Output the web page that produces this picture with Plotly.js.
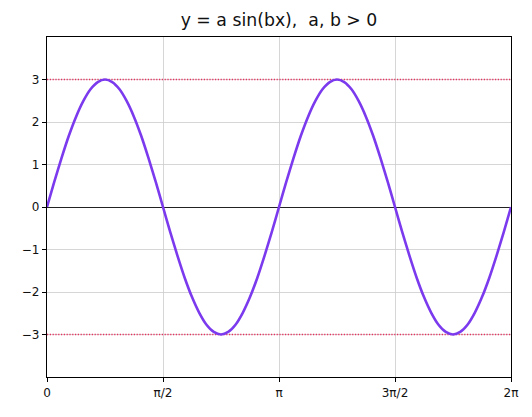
<!DOCTYPE html>
<html>
<head>
<meta charset="utf-8">
<script src="https://cdn.plot.ly/plotly-3.0.1.min.js"></script>
<style>html,body{margin:0;padding:0;background:#fff;}#chart{width:532px;height:417px;}</style>
</head>
<body>
<div id="chart"></div>
<script>
// x positions in units of pi/32 (0 .. 2pi)
const xSteps = [0,1,2,3,4,5,6,7,8,9,10,11,12,13,14,15,16,17,18,19,20,21,22,23,24,25,26,27,28,29,30,31,32,
  33,34,35,36,37,38,39,40,41,42,43,44,45,46,47,48,49,50,51,52,53,54,55,56,57,58,59,60,61,62,63,64];
// curve values (amplitude 3, two periods)
const yValues = [0,0.59,1.15,1.67,2.12,2.49,2.77,2.94,3,2.94,2.77,2.49,2.12,1.67,1.15,0.59,
  0,-0.59,-1.15,-1.67,-2.12,-2.49,-2.77,-2.94,-3,-2.94,-2.77,-2.49,-2.12,-1.67,-1.15,-0.59,
  0,0.59,1.15,1.67,2.12,2.49,2.77,2.94,3,2.94,2.77,2.49,2.12,1.67,1.15,0.59,
  0,-0.59,-1.15,-1.67,-2.12,-2.49,-2.77,-2.94,-3,-2.94,-2.77,-2.49,-2.12,-1.67,-1.15,-0.59,0];
const refLevels = [3, -3];
const tickSteps = [0, 16, 32, 48, 64];
const tickLabels = ["0", "π/2", "π", "3π/2", "2π"];
const yTicks = [-3, -2, -1, 0, 1, 2, 3];

const UNIT = Math.PI / 32;
const xs = xSteps.map(k => k * UNIT);
const xMax = 64 * UNIT;

const traces = [];
refLevels.forEach(v => {
  traces.push({x: [0, xMax], y: [v, v], mode: 'lines', hoverinfo: 'skip',
    line: {color: '#e8305f', width: 1.3, dash: '1.2px,1.6px'}, showlegend: false});
});
traces.push({x: xs, y: yValues, mode: 'lines', line: {color: '#7b3aed', width: 2.6, shape: 'spline', smoothing: 0.6}, showlegend: false});

const layout = {
  width: 532, height: 417,
  margin: {l: 47, r: 21, t: 37, b: 40},
  paper_bgcolor: '#fff', plot_bgcolor: '#fff',
  font: {family: 'DejaVu Sans, sans-serif', size: 12, color: '#111'},
  title: {text: 'y = a sin(bx),&nbsp; a, b > 0', font: {size: 17.3, color: '#111'}, xref: 'paper', x: 0.5, xanchor: 'center', y: 0.951, yanchor: 'middle'},
  xaxis: {range: [0, xMax], tickvals: tickSteps.map(k => k * UNIT), ticktext: tickLabels,
    showgrid: true, gridcolor: '#cccccc', gridwidth: 0.8, zeroline: false,
    showline: true, linecolor: '#000', linewidth: 1.2, mirror: true,
    ticks: 'outside', ticklen: 4, tickcolor: '#000', tickwidth: 1},
  yaxis: {range: [-4, 4], tickvals: yTicks,
    showgrid: true, gridcolor: '#cccccc', gridwidth: 0.8,
    zeroline: true, zerolinecolor: '#222', zerolinewidth: 1,
    showline: true, linecolor: '#000', linewidth: 1.2, mirror: true,
    ticks: 'outside', ticklen: 4, tickcolor: '#000', tickwidth: 1}
};
Plotly.newPlot('chart', traces, layout, {displayModeBar: false, staticPlot: true});
</script>
</body>
</html>
